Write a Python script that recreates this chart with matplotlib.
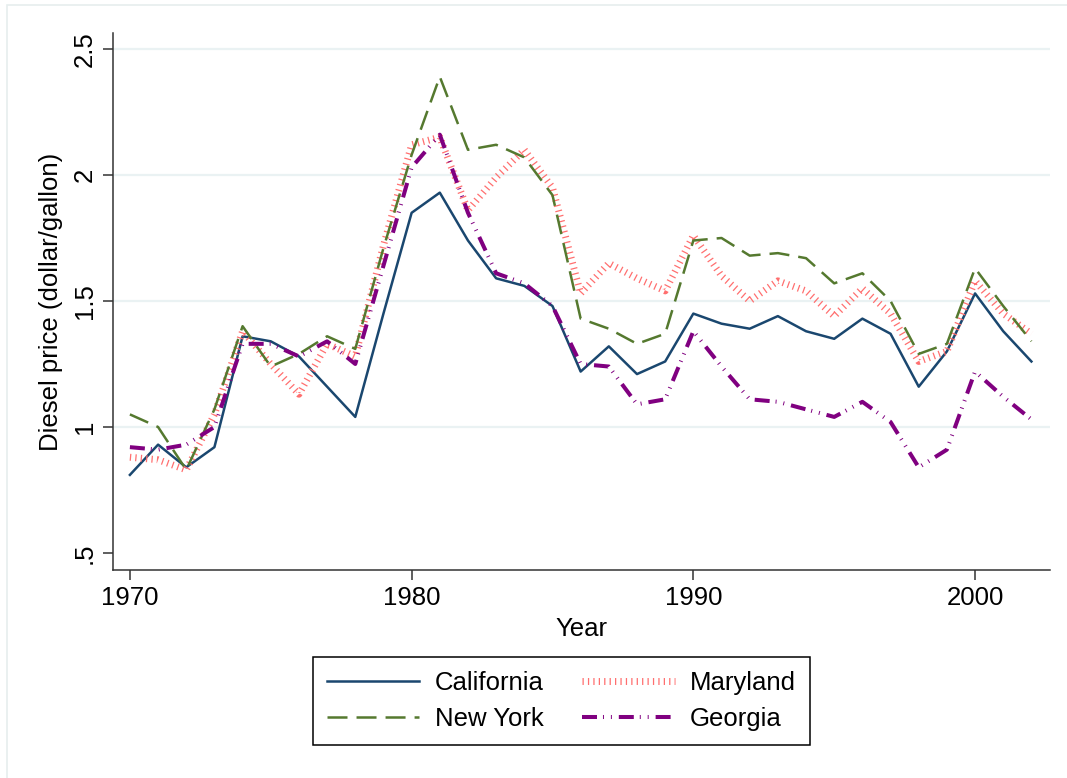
import matplotlib
matplotlib.use("Agg")
import matplotlib.pyplot as plt
from matplotlib.patches import Rectangle

plt.rcParams['font.family'] = ['Liberation Sans', 'DejaVu Sans']
plt.rcParams['lines.scale_dashes'] = False

years = list(range(1970, 2003))

california = [0.81, 0.93, 0.84, 0.92, 1.36, 1.34, 1.28, 1.16, 1.04, 1.45,
              1.85, 1.93, 1.74, 1.59, 1.56, 1.48, 1.22, 1.32, 1.21, 1.26,
              1.45, 1.41, 1.39, 1.44, 1.38, 1.35, 1.43, 1.37, 1.16, 1.30,
              1.53, 1.38, 1.26]
new_york = [1.05, 1.00, 0.83, 1.07, 1.40, 1.24, 1.29, 1.36, 1.31, 1.71,
            2.08, 2.39, 2.10, 2.12, 2.07, 1.92, 1.43, 1.39, 1.33, 1.37,
            1.74, 1.75, 1.68, 1.69, 1.67, 1.57, 1.61, 1.50, 1.29, 1.33,
            1.63, 1.48, 1.34]
maryland = [0.88, 0.87, 0.83, 1.05, 1.38, 1.25, 1.13, 1.33, 1.28, 1.72,
            2.12, 2.15, 1.86, 1.99, 2.10, 1.95, 1.53, 1.65, 1.59, 1.54,
            1.76, 1.60, 1.50, 1.58, 1.54, 1.44, 1.55, 1.45, 1.26, 1.30,
            1.58, 1.45, 1.37]
georgia = [0.92, 0.91, 0.93, 1.00, 1.33, 1.33, 1.28, 1.34, 1.25, 1.64,
           2.03, 2.16, 1.85, 1.61, 1.57, 1.48, 1.25, 1.24, 1.09, 1.11,
           1.38, 1.24, 1.11, 1.10, 1.07, 1.04, 1.10, 1.02, 0.84, 0.91,
           1.22, 1.12, 1.03]

yticks = [0.5, 1, 1.5, 2, 2.5]
ytick_labels = ['.5', '1', '1.5', '2', '2.5']
xticks = [1970, 1980, 1990, 2000]

W, H = 1067, 778
fig = plt.figure(figsize=(W / 100, H / 100), dpi=100)
ax = fig.add_axes([113 / W, 1 - 570 / H, (1050 - 113) / W, (570 - 33) / H])

# light outer frame (Stata graph region)
fig.patches.append(Rectangle((7 / W, -0.1), 1.2, 1.1 - 5 / H, transform=fig.transFigure,
                             fill=False, edgecolor='#e6eeee', linewidth=1.2))

for y in [1, 1.5, 2, 2.5]:
    ax.axhline(y, color='#eaf2f3', linewidth=1.6, zorder=0)

l_ca, = ax.plot(years, california, color='#1a476f', linewidth=1.8, label='California')
l_md, = ax.plot(years, maryland, color='#ff6f6f', linewidth=5, dashes=(0.9, 3.0),
                label='Maryland')
l_ny, = ax.plot(years, new_york, color='#55792f', linewidth=1.8, dashes=(14.4, 6.5),
                label='New York')
l_ga, = ax.plot(years, georgia, color='#800080', linewidth=2.9,
                dashes=(10.8, 4.3, 0.7, 5, 0.7, 5), label='Georgia')

ax.set_xlim(1969.4, 2002.66)
ax.set_ylim(1 + (427 - 570) / 252, 1 + (427 - 33) / 252)
ax.set_xticks(xticks)
ax.set_xticklabels([str(x) for x in xticks], fontsize=18.5)
ax.set_yticks(yticks)
ax.set_yticklabels(ytick_labels, fontsize=18.5, rotation=90, va='center')
ax.tick_params(direction='out', length=7.5, width=1.1, color='#333333', pad=4)
for s in ['top', 'right']:
    ax.spines[s].set_visible(False)
for s in ['left', 'bottom']:
    ax.spines[s].set_linewidth(1.1)
    ax.spines[s].set_color('#333333')

ax.set_xlabel('Year', fontsize=18.5, labelpad=5)
ax.set_ylabel('Diesel price (dollar/gallon)', fontsize=18.5, labelpad=7)

leg = fig.legend([l_ca, l_ny, l_md, l_ga], ['California', 'New York', 'Maryland', 'Georgia'],
                 ncol=2, loc='center', bbox_to_anchor=(561.5 / W, 1 - 701 / H),
                 fontsize=18.5, handlelength=3.6, handletextpad=0.6, columnspacing=1.5,
                 labelspacing=0.45, borderpad=0.55, fancybox=False, framealpha=1)
leg.get_frame().set_edgecolor('black')
leg.get_frame().set_linewidth(1.1)

fig.savefig('out.png', dpi=100)
